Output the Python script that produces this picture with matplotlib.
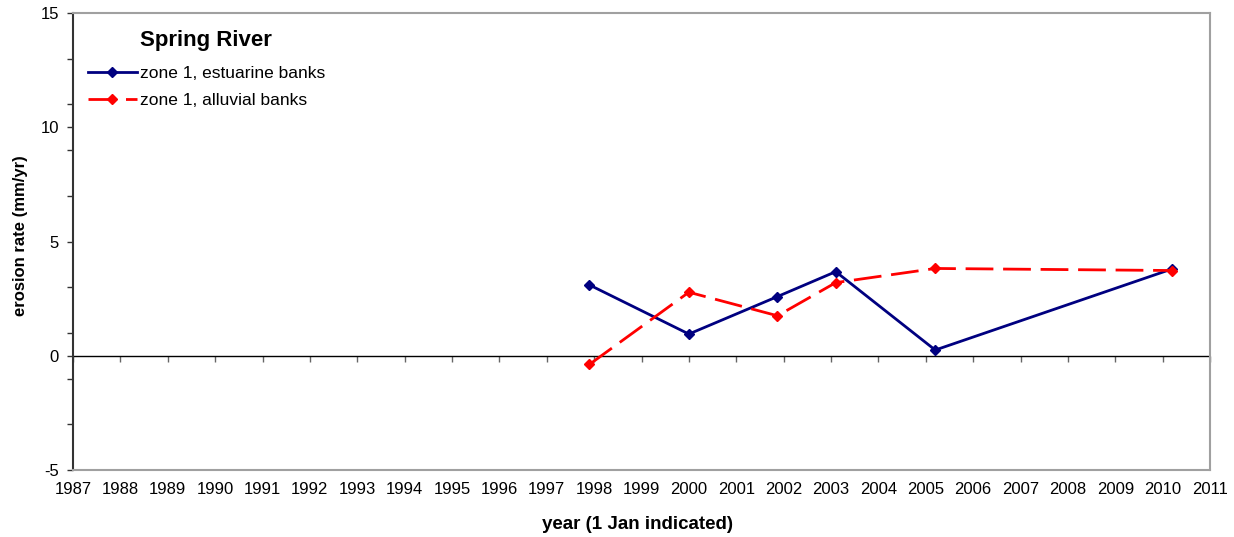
import matplotlib.pyplot as plt
from matplotlib.ticker import MultipleLocator, FixedLocator

plt.rcParams['font.family'] = ['Liberation Sans', 'DejaVu Sans']
plt.rcParams['axes.unicode_minus'] = False

# data
years_est = [1997.9, 2000.0, 2001.87, 2003.1, 2005.2, 2010.2]
rate_est = [3.10, 0.95, 2.59, 3.68, 0.25, 3.80]

years_all = [1997.9, 2000.0, 2001.87, 2003.1, 2005.2, 2010.2]
rate_all = [-0.38, 2.78, 1.75, 3.20, 3.82, 3.73]

year_ticks = list(range(1987, 2012))

fig = plt.figure(figsize=(12.34, 5.37), dpi=100)
ax = fig.add_axes([73 / 1234, 67 / 537, (1210 - 73) / 1234, (470 - 13) / 537])

ax.plot(years_est, rate_est, color='#000080', lw=2.0, marker='D', ms=5,
        label='zone 1, estuarine banks')
ax.plot(years_all, rate_all, color='#ff0000', lw=2.0, marker='D', ms=5,
        dashes=(10, 3.5), label='zone 1, alluvial banks')

ax.set_xlim(1987, 2011)
ax.set_ylim(-5, 15)
ax.axhline(0, color='black', lw=1, zorder=1)

ax.xaxis.set_major_locator(FixedLocator(year_ticks))
ax.set_xticklabels([str(y) for y in year_ticks])
ax.tick_params(axis='x', length=0, pad=9, labelsize=12)

ax.yaxis.set_major_locator(MultipleLocator(5))
ax.yaxis.set_minor_locator(FixedLocator([-3, -1, 1, 3, 7, 9, 11, 13]))
ax.tick_params(axis='y', which='both', direction='out', length=4, width=1,
               color='#333333', pad=6, labelsize=12)

# tick marks of the year axis sit on the zero line
sec = ax.secondary_xaxis(0.25)
sec.xaxis.set_major_locator(FixedLocator(year_ticks))
sec.tick_params(axis='x', direction='out', length=4, width=1, color='#666666',
                labelbottom=False)
sec.spines['bottom'].set_visible(False)

for s in ['top', 'right', 'bottom']:
    ax.spines[s].set_color('#a0a0a0')
    ax.spines[s].set_linewidth(1.5)
ax.spines['left'].set_color('#333333')
ax.spines['left'].set_linewidth(1.5)

ax.set_xlabel('year (1 Jan indicated)', fontsize=13.5, fontweight='bold', labelpad=13.5)
ax.xaxis.label.set_x(0.4965)
ax.set_ylabel('erosion rate (mm/yr)', fontsize=12, fontweight='bold')
ax.yaxis.set_label_coords(-0.040, 0.512)

leg = ax.legend(loc='upper left', bbox_to_anchor=(0.0, 0.995), frameon=False,
                title='Spring River', fontsize=12.5, handlelength=2.85,
                handletextpad=0.15, borderaxespad=0.45, labelspacing=0.67)
leg.get_title().set_fontweight('bold')
leg.get_title().set_fontsize(16)
leg._legend_box.sep = 11

fig.savefig('out.png', dpi=100)
